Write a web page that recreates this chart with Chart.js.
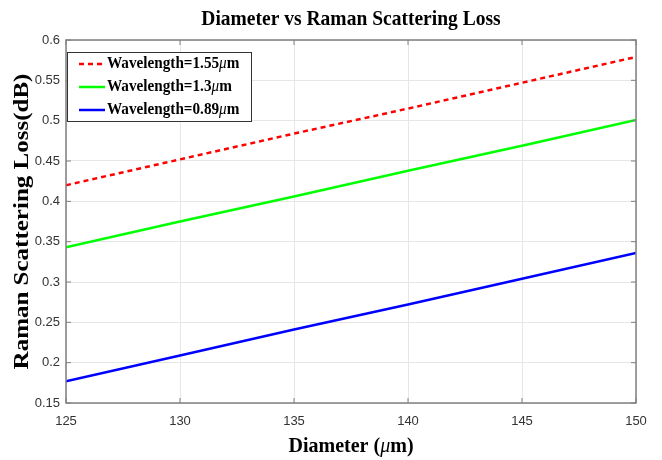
<!DOCTYPE html>
<html>
<head>
    <title>Diameter vs Raman Scattering Loss</title>
    <script src="https://cdn.jsdelivr.net/npm/chart.js"></script>
    <style>
        body { margin: 0; background: #fff; }
        #chartContainer { width: 662px; height: 460px; }
    </style>
</head>
<body>

    <div id="chartContainer">
        <canvas id="myChart"></canvas>
    </div>

    <script>
      // диаметр волокна, мкм
      const diameters = [125, 130, 135, 140, 145, 150];
      // потери (дБ) для трёх длин волн
      const loss155 = [0.420, 0.452, 0.484, 0.515, 0.547, 0.579];
      const loss13  = [0.343, 0.375, 0.406, 0.438, 0.469, 0.501];
      const loss089 = [0.177, 0.209, 0.241, 0.272, 0.304, 0.336];
      const seriesLabels = ['1.55', '1.3', '0.89'];
      const yTicks = [0.15, 0.2, 0.25, 0.3, 0.35, 0.4, 0.45, 0.5, 0.55, 0.6];

      const toPoints = arr => arr.map((v, i) => ({ x: diameters[i], y: v }));

      const serif = '"Liberation Serif", "Times New Roman", serif';

      // рисует текст из кусков (жирный + курсивная мю), сжатый по горизонтали
      function drawRuns(ctx, runs, x, y, sx, align, sy) {
          let total = 0;
          runs.forEach(r => { ctx.font = r.font; r.w = ctx.measureText(r.text).width; total += r.w; });
          ctx.save();
          ctx.translate(x, y);
          ctx.scale(sx, sy || 1);
          let cx = align === 'left' ? 0 : -total / 2;
          ctx.textBaseline = 'middle';
          ctx.textAlign = 'left';
          runs.forEach(r => { ctx.font = r.font; ctx.fillText(r.text, cx, 0); cx += r.w; });
          ctx.restore();
      }

      const frame = {
          id: 'frame',
          afterDraw(chart) {
              const ctx = chart.ctx;
              const a = chart.chartArea;
              const xs = chart.scales.x, ys = chart.scales.y;
              ctx.save();
              // рамка
              ctx.strokeStyle = '#808080';
              ctx.lineWidth = 1.5;
              ctx.strokeRect(a.left, a.top, a.right - a.left, a.bottom - a.top);
              // внутренние засечки
              ctx.lineWidth = 1;
              ctx.beginPath();
              diameters.forEach(d => {
                  const px = xs.getPixelForValue(d);
                  ctx.moveTo(px, a.bottom); ctx.lineTo(px, a.bottom - 5);
                  ctx.moveTo(px, a.top); ctx.lineTo(px, a.top + 5);
              });
              yTicks.forEach(t => {
                  const py = ys.getPixelForValue(t);
                  ctx.moveTo(a.left, py); ctx.lineTo(a.left + 5, py);
                  ctx.moveTo(a.right, py); ctx.lineTo(a.right - 5, py);
              });
              ctx.stroke();

              // легенда
              const lx = 67, ly = 52, lw = 184, lh = 69;
              ctx.fillStyle = '#fff';
              ctx.fillRect(lx, ly, lw, lh);
              ctx.strokeStyle = '#333';
              ctx.lineWidth = 1;
              ctx.strokeRect(lx + 0.5, ly + 0.5, lw, lh);
              chart.data.datasets.forEach((ds, i) => {
                  const ry = 64 + i * 23;
                  ctx.strokeStyle = ds.borderColor;
                  ctx.lineWidth = 2.5;
                  ctx.setLineDash(ds.borderDash || []);
                  ctx.beginPath();
                  ctx.moveTo(79, ry); ctx.lineTo(105, ry);
                  ctx.stroke();
                  ctx.setLineDash([]);
                  ctx.fillStyle = '#000';
                  drawRuns(ctx, [
                      { text: 'Wavelength=' + seriesLabels[i], font: 'bold 16px ' + serif },
                      { text: 'μ', font: 'italic 16px ' + serif },
                      { text: 'm', font: 'bold 16px ' + serif }
                  ], 107, ry, 0.95, 'left');
              });

              // заголовки
              ctx.fillStyle = '#000';
              const midX = (a.left + a.right) / 2;
              drawRuns(ctx, [{ text: 'Diameter vs Raman Scattering Loss', font: 'bold 21px ' + serif }], midX, 20, 0.93);
              drawRuns(ctx, [
                  { text: 'Diameter (', font: 'bold 22px ' + serif },
                  { text: 'μ', font: 'italic 22px ' + serif },
                  { text: 'm)', font: 'bold 22px ' + serif }
              ], midX, 446, 0.91);
              ctx.save();
              ctx.translate(23, (a.top + a.bottom) / 2);
              ctx.rotate(-Math.PI / 2);
              drawRuns(ctx, [{ text: 'Raman Scattering Loss(dB)', font: 'bold 25px ' + serif }], 0, 0, 1.0, 'center', 0.85);
              ctx.restore();
              ctx.restore();
          }
      };

      const config = {
          type: 'line',
          data: {
              datasets: [
                  { label: 'Wavelength=1.55μm', data: toPoints(loss155), borderColor: '#ff0000', borderWidth: 2.5, borderDash: [5, 4] },
                  { label: 'Wavelength=1.3μm', data: toPoints(loss13), borderColor: '#00ff00', borderWidth: 2.5 },
                  { label: 'Wavelength=0.89μm', data: toPoints(loss089), borderColor: '#0000ff', borderWidth: 2.5 }
              ]
          },
          options: {
              responsive: false,
              animation: false,
              devicePixelRatio: 1,
              elements: { point: { radius: 0 } },
              layout: { padding: { top: 40, right: 26, left: 0, bottom: 0 } },
              plugins: { legend: { display: false }, tooltip: { enabled: false } },
              scales: {
                  x: {
                      type: 'linear',
                      min: 125, max: 150,
                      afterBuildTicks: s => { s.ticks = diameters.map(v => ({ value: v })); },
                      afterFit: s => { s.height = 57; },
                      ticks: { font: { family: '"Liberation Sans", Arial, sans-serif', size: 13 }, color: '#333', padding: 11, maxRotation: 0 },
                      grid: { color: '#e6e6e6', drawTicks: false },
                      border: { display: false }
                  },
                  y: {
                      min: 0.15, max: 0.6,
                      afterBuildTicks: s => { s.ticks = yTicks.map(v => ({ value: v })); },
                      afterFit: s => { s.width = 66; },
                      ticks: {
                          font: { family: '"Liberation Sans", Arial, sans-serif', size: 13 },
                          color: '#333', padding: 6,
                          callback: v => String(+v.toFixed(2))
                      },
                      grid: { color: '#e6e6e6', drawTicks: false },
                      border: { display: false }
                  }
              }
          },
          plugins: [frame]
      };

      const canvas = document.getElementById('myChart');
      canvas.width = 662;
      canvas.height = 460;
      const myChart = new Chart(canvas, config);
  </script>

</body>
</html>
